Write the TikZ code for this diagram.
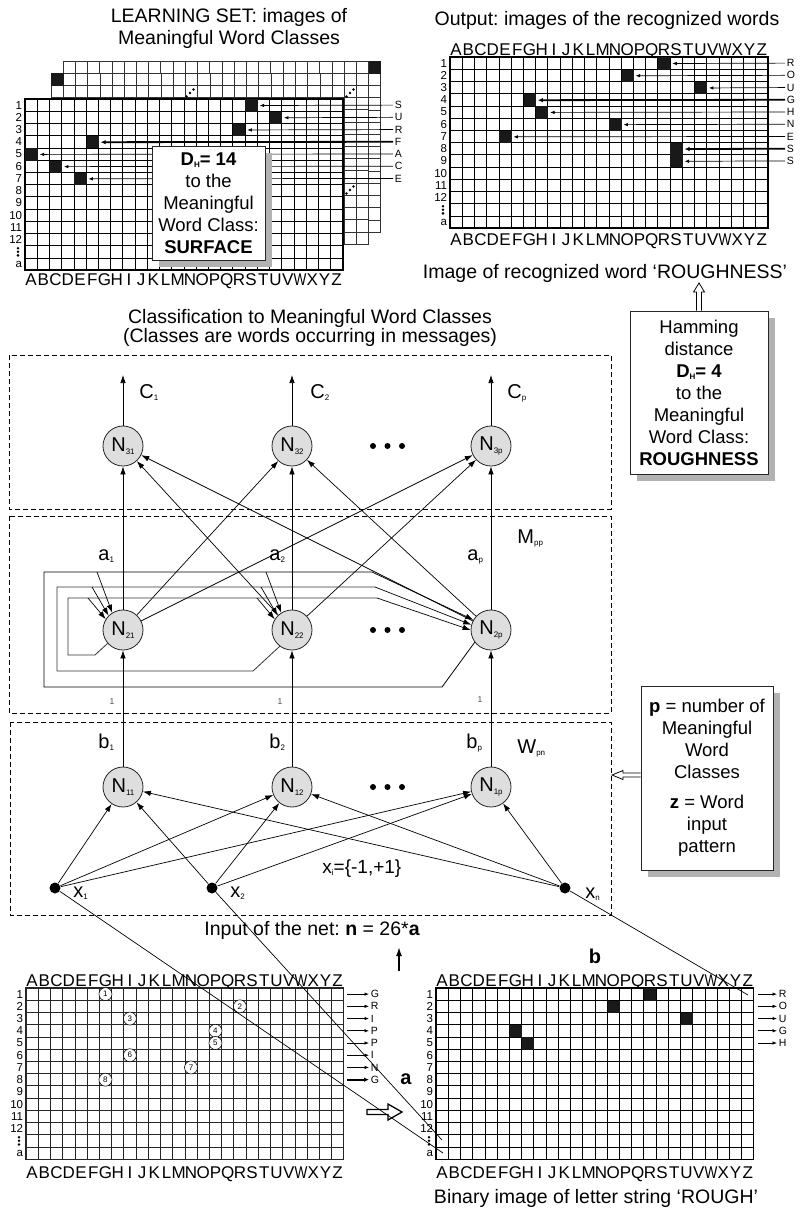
\documentclass[tikz,border=0pt]{standalone}
\usepackage{fontspec}
\setmainfont{Liberation Sans}
\usepackage{graphicx}
\usetikzlibrary{arrows.meta,calc}
\frenchspacing
\newcommand\fs[1]{\fontsize{#1}{#1}\selectfont}
\newcommand\fsl[2]{\fontsize{#1}{#2}\selectfont}
\newcommand\sbs[1]{\raisebox{-2.5pt}{\fontsize{8}{8}\selectfont #1}}
\newcommand\cw{12.223}
\newcommand\gridbox[4]{%
  \fill[white] (#1,#2) rectangle ++(317.8,171.1);
  \foreach \gi in {1,...,25} {\draw[#3,line width=0.7pt] ({#1+\gi*\cw},#2) -- ++(0,171.1);}
  \foreach \gj in {1,...,13} {\draw[#3,line width=0.7pt] (#1,{#2+\gj*\cw}) -- ++(317.8,0);}
  \draw[#3,line width=#4] (#1,#2) rectangle ++(317.8,171.1);
}
\newcommand\colletters[2]{%
  \foreach \glt [count=\gk from 0] in {A,B,C,D,E,F,G,H,I,J,K,L,M,N,O,P,Q,R,S,T,U,V,{\scalebox{0.8}[1]{W}},X,Y,Z}
    {\node[colL] at ({#1+(\gk+0.5)*\cw},#2) {\glt};}
}
\newcommand\rowlabels[2]{%
  \foreach \grr in {1,...,12} {\node[rowL] at ({#1-2.5},{#2+(\grr-0.5)*\cw}) {\grr};}
  \foreach \gdd in {-3.6,0,3.6} {\fill ({#1-7},{#2+12.5*\cw+\gdd}) circle (1.4);}
  \node[rowL] at ({#1-2.5},{#2+13.5*\cw}) {a};
}
\begin{document}
\begin{tikzpicture}[x=1pt,y=-1pt,line width=0.8pt,
  neuron/.style={circle,draw=black!85,fill=black!13,minimum size=40pt,inner sep=0pt,line width=0.8pt,font=\fs{20}},
  arr/.style={-{Latex[length=8pt,width=5.5pt]},line width=0.7pt},
  sarr/.style={-{Latex[length=4.5pt,width=3.5pt]},line width=0.7pt},
  tarr/.style={-{Latex[length=5pt,width=4.5pt]},line width=1.8pt},
  dashbox/.style={dash pattern=on 5pt off 3pt,line width=0.8pt},
  inp/.style={circle,fill=black,minimum size=11pt,inner sep=0pt},
  blk/.style={fill=black!90,minimum size=12.223pt,inner sep=0pt,anchor=north west},
  lbl/.style={font=\fs{20},anchor=base west,inner sep=0pt},
  letter/.style={font=\fs{10.5},anchor=west,inner sep=1.5pt},
  colL/.style={font=\fs{17},anchor=base,inner sep=0pt},
  rowL/.style={font=\fs{11.5},anchor=east,inner sep=0pt},
  cnum/.style={circle,draw=black,fill=white,minimum size=13pt,inner sep=0pt,font=\fs{8},line width=0.6pt},
  tbox/.style={draw=black!85,fill=white,line width=0.8pt,align=center,inner sep=0pt,font=\fsl{18.5}{22}},
  shade/.style={fill=black!30,draw=none},
  one/.style={font=\fs{8.5},text=black!70,inner sep=0pt},
  title/.style={font=\fs{19.5},anchor=base,inner sep=0pt},
  hollow/.style={draw=black,fill=white,line width=0.8pt,line join=miter},
  loop/.style={draw=black!80,line width=0.8pt},
]
\useasboundingbox (0,0) rectangle (803,1211);
\fill[white] (0,0) rectangle (803,1211);

% ---------------- titles
\node[title] (lt1) at (229,22) {LEARNING SET: images of};
\node[title] (lt2) at (229,44) {Meaningful Word Classes};
\node[title] (ot) at (607,25) {Output: images of the recognized words};

% ---------------- learning set (top left)
\gridbox{63}{61}{black!80}{0.8pt}
\node[blk] (l3z) at ({63+25*\cw},61) {};
\gridbox{51}{73}{black!80}{0.8pt}
\node[blk] (l2a) at (51,73) {};
\foreach \ex/\ey in {190/93,350/93,350/190} {\foreach \eo in {-3.5,0,3.5} {\fill ({\ex+\eo},{\ey-\eo}) circle (1.4);}}
\gridbox{25}{99}{black}{1.8pt}
\foreach \cc/\rr in {18/1,20/2,17/3,5/4,0/5,2/6,4/7} {\node[blk] (tlc\rr) at ({25+\cc*\cw},{99+(\rr-1)*\cw}) {};}
\foreach \rr/\lt in {1/S,2/U,3/R,5/A,6/C,7/E} {
  \node[letter] (tll\rr) at (393,{99+(\rr-0.5)*\cw}) {\lt};
  \draw[sarr] (tll\rr.west) -- ($(tlc\rr.east)+(1.5,0)$);
}
\node[letter] (tll4) at (393,{99+3.5*\cw}) {F};
\draw[tarr] (tll4.west) -- ($(tlc4.east)+(1.5,0)$);
\rowlabels{25}{99}
\colletters{25}{285}
\fill[shade] (159,153) rectangle (272,267);
\node[tbox,minimum width=113pt,minimum height=114pt] (dh) at (208.5,203) {\textbf{D\sbs{H}= 14}\\to the\\Meaningful\\Word Class:\\\textbf{SURFACE}};

% ---------------- output (top right)
\gridbox{450}{57}{black}{1.4pt}
\foreach \cc/\rr in {17/1,14/2,20/3,6/4,7/5,13/6,4/7,18/8,18/9} {\node[blk] (trc\rr) at ({450+\cc*\cw},{57+(\rr-1)*\cw}) {};}
\foreach \rr/\lt in {1/R,2/O,3/U,5/H,6/N,7/E,9/S} {
  \node[letter] (trl\rr) at (785,{57+(\rr-0.5)*\cw}) {\lt};
  \draw[sarr] (trl\rr.west) -- ($(trc\rr.east)+(1.5,0)$);
}
\foreach \rr/\lt in {4/G,8/S} {
  \node[letter] (trl\rr) at (785,{57+(\rr-0.5)*\cw}) {\lt};
  \draw[tarr] (trl\rr.west) -- ($(trc\rr.east)+(1.5,0)$);
}
\rowlabels{450}{57}
\colletters{450}{55.5}
\colletters{450}{245}
\node[title] (cap1) at (605,278) {Image of recognized word ‘ROUGHNESS’};

% ---------------- Hamming box
\fill[shade] (637,318) rectangle (775,481);
\node[tbox,minimum width=138pt,minimum height=163pt] (ham) at (699,392.5) {Hamming\\distance\\\textbf{D\sbs{H}= 4}\\to the\\Meaningful\\Word Class:\\\textbf{ROUGHNESS}};
\coordinate (hamtip) at (699,283);
\draw[hollow] ($(ham.north)+(-2.5,0)$) -- ($(hamtip)+(-2.5,9)$) -- ($(hamtip)+(-5.5,9)$) -- (hamtip) -- ($(hamtip)+(5.5,9)$) -- ($(hamtip)+(2.5,9)$) -- ($(ham.north)+(2.5,0)$);

% ---------------- network
\node[title] (cl1) at (310,323) {Classification to Meaningful Word Classes};
\node[title] (cl2) at (310,342) {(Classes are words occurring in messages)};
\draw[dashbox] (9,355) rectangle (611,509);
\draw[dashbox] (9,516) rectangle (611,713);
\draw[dashbox] (10,722) rectangle (611,915);

\node[neuron] (N31) at (123,446) {N\sbs{31}};
\node[neuron] (N32) at (292,446) {N\sbs{32}};
\node[neuron] (N3p) at (491,446) {N\sbs{3p}};
\node[neuron] (N21) at (123,630) {N\sbs{21}};
\node[neuron] (N22) at (292,630) {N\sbs{22}};
\node[neuron] (N2p) at (491,630) {N\sbs{2p}};
\node[neuron] (N11) at (123,787) {N\sbs{11}};
\node[neuron] (N12) at (292,787) {N\sbs{12}};
\node[neuron] (N1p) at (491,787) {N\sbs{1p}};
\node[inp] (x1) at (55,888) {};
\node[inp] (x2) at (212,888) {};
\node[inp] (xn) at (565,888) {};

\foreach \s in {21,22,2p} {\foreach \t in {31,32,3p} {\draw[arr] (N\s) -- (N\t);}}
\foreach \cc in {1,2,p} {\draw[arr] (N1\cc) -- (N2\cc);}
\foreach \s in {x1,x2,xn} {\foreach \t in {11,12,1p} {\draw[arr] (\s) -- (N\t);}}
\foreach \cc/\xx in {1/123,2/292,p/491} {\coordinate (out\cc) at (\xx,375); \draw[arr] (N3\cc) -- (out\cc);}

% lateral (Mpp) loops
\coordinate (lo1) at (442,687); \coordinate (lo2) at (44,687); \coordinate (lo3) at (44,572); \coordinate (lo4) at (372,572);
\draw[loop,draw=black] (N2p.217) -- (lo1) -- (lo2) -- (lo3) -- (lo4);
\draw[arr] (lo4) -- (N2p.150);
\coordinate (lm1) at (253,671); \coordinate (lm2) at (57,671); \coordinate (lm3) at (57,587); \coordinate (lm4) at (375,587);
\draw[loop] (N22.233) -- (lm1) -- (lm2) -- (lm3) -- (lm4);
\draw[arr] (lm4) -- (N2p.165);
\coordinate (li1) at (95,655); \coordinate (li2) at (68,655); \coordinate (li3) at (68,598); \coordinate (li4) at (377,598);
\draw[loop] (N21.221) -- (li1) -- (li2) -- (li3) -- (li4);
\draw[arr] (li4) -- (N2p.180);
\foreach \tx/\ty/\ang/\tg in {97/572/122/N21,92/587/135/N21,88/598/148/N21,266/572/122/N22,261/587/135/N22,257/598/148/N22}
  {\coordinate (tap) at (\tx,\ty); \draw[arr] (tap) -- (\tg.\ang);}

\foreach \yy in {446,630,787} {\foreach \xx in {373,387.5,402} {\fill (\xx,\yy) circle (3);}}

\node[lbl] (C1) at (139,398) {C\sbs{1}};
\node[lbl] (C2) at (310,398) {C\sbs{2}};
\node[lbl] (Cp) at (507,398) {C\sbs{p}};
\node[lbl] (a1) at (98,560) {a\sbs{1}};
\node[lbl] (a2) at (269,560) {a\sbs{2}};
\node[lbl] (ap) at (467,560) {a\sbs{p}};
\node[lbl] (Mpp) at (517,543) {M\sbs{pp}};
\node[lbl] (b1) at (98,748) {b\sbs{1}};
\node[lbl] (b2) at (269,748) {b\sbs{2}};
\node[lbl] (bp) at (466,748) {b\sbs{p}};
\node[lbl] (Wpn) at (517,753) {W\sbs{pn}};
\node[lbl] (lx1) at (73,897) {x\sbs{1}};
\node[lbl] (lx2) at (230,897) {x\sbs{2}};
\node[lbl] (lxn) at (585,898) {x\sbs{n}};
\node[lbl,font=\fs{19}] (xi) at (322,873) {x\sbs{i}=\{-1,+1\}};
\node[one] (o1) at (112,702) {1};
\node[one] (o2) at (280,702) {1};
\node[one] (o3) at (480,700) {1};

% ---------------- p box
\fill[shade] (648,693) rectangle (780,877);
\node[tbox,minimum width=132pt,minimum height=184pt] (pb) at (707,778) {\textbf{p} = number of\\Meaningful\\Word\\Classes\\[8pt]\textbf{z} = Word\\input\\pattern};
\coordinate (pbtip) at (612,775);
\draw[hollow] ($(pb.west)+(0,-5)$) -- ($(pbtip)+(11,-2)$) -- ($(pbtip)+(11,-4.5)$) -- (pbtip) -- ($(pbtip)+(11,4.5)$) -- ($(pbtip)+(11,2)$) -- ($(pb.west)+(0,-1)$);

% ---------------- input text
\node[font=\fs{19.5},anchor=base west,inner sep=0pt] (inet) at (204,935) {Input of the net: \textbf{n} = 26*\textbf{a}};
\coordinate (ua1) at (399,971); \coordinate (ua2) at (399,947);
\draw[-{Latex[length=9pt,width=6pt]},line width=1.5pt] (ua1) -- (ua2);

% ---------------- bottom left grid
\gridbox{26}{988}{black!85}{1.2pt}
\foreach \cc/\rr/\nn in {6/1/1,17/2/2,8/3/3,15/4/4,15/5/5,8/6/6,13/7/7,6/8/8} {\node[cnum] (bc\nn) at ({26+(\cc+0.5)*\cw},{988+(\rr-0.5)*\cw}) {\nn};}
\foreach \rr/\lt in {1/G,2/R,3/I,4/P,5/P,6/I,7/N} {
  \node[letter] (bll\rr) at (369,{988+(\rr-0.5)*\cw}) {\lt};
  \coordinate (bls\rr) at (347,{988+(\rr-0.5)*\cw});
  \draw[sarr] (bls\rr) -- (bll\rr.west);
}
\node[letter] (bll8) at (369,{988+7.5*\cw}) {G};
\coordinate (bls8) at (347,{988+7.5*\cw});
\draw[tarr] (bls8) -- (bll8.west);
\rowlabels{26}{988}
\colletters{26}{986}
\colletters{26}{1178}

% ---------------- bottom right grid
\gridbox{436}{988}{black}{1.2pt}
\foreach \cc/\rr in {17/1,14/2,20/3,6/4,7/5} {\node[blk] (brc\rr) at ({436+\cc*\cw},{988+(\rr-1)*\cw}) {};}
\foreach \rr/\lt in {1/R,2/O,3/U,4/G,5/H} {
  \node[letter] (brl\rr) at (777,{988+(\rr-0.5)*\cw}) {\lt};
  \coordinate (brs\rr) at (758,{988+(\rr-0.5)*\cw});
  \draw[sarr] (brs\rr) -- (brl\rr.west);
}
\rowlabels{436}{988}
\colletters{436}{986}
\colletters{436}{1178}
\node[title] (bcap) at (596,1203) {Binary image of letter string ‘ROUGH’};
\node[font=\bfseries\fs{20},anchor=base,inner sep=0pt] (blb) at (595,963) {b};
\node[font=\bfseries\fs{20},anchor=base,inner sep=0pt] (bla) at (406,1084) {a};
\coordinate (ha1) at (367,1112); \coordinate (ha2) at (402,1112);
\draw[hollow,line width=1.3pt] ($(ha1)+(0,-2.5)$) -- ($(ha2)+(-14,-2.5)$) -- ($(ha2)+(-14,-8)$) -- (ha2) -- ($(ha2)+(-14,8)$) -- ($(ha2)+(-14,2.5)$) -- ($(ha1)+(0,2.5)$) -- cycle;

% ---------------- input lines to the image
\coordinate (e1) at (443,1153); \coordinate (e2) at (442,1140); \coordinate (en) at (748,995);
\draw[line width=0.7pt] (x1) -- (e1);
\draw[line width=0.7pt] (x2) -- (e2);
\draw[line width=0.7pt] (xn) -- (en);
\end{tikzpicture}
\end{document}
